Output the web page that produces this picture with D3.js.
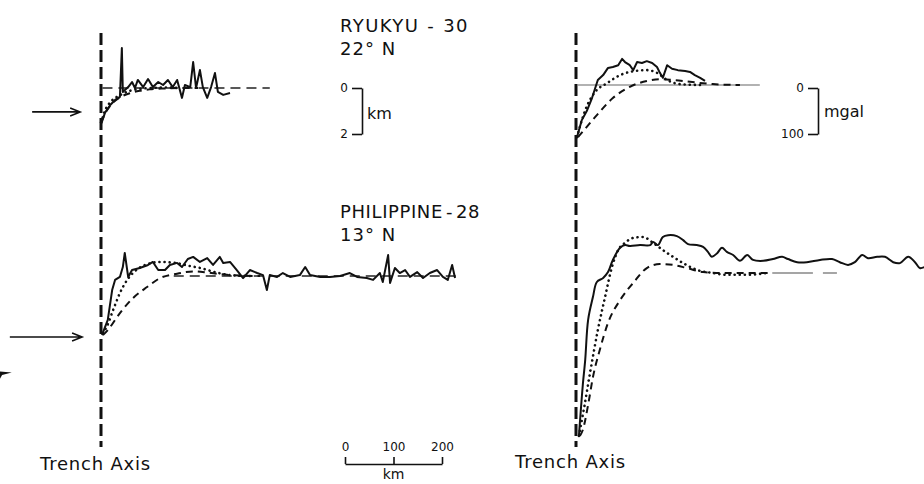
<!DOCTYPE html>
<html>
<head>
<meta charset="utf-8">
<script src="https://cdn.jsdelivr.net/npm/d3@7"></script>
<style>
  body { margin: 0; background: #fff; }
  svg text { font-family: "DejaVu Sans", sans-serif; fill: #111; }
</style>
</head>
<body>
<svg id="canvas" width="924" height="484"></svg>
<script>
// distances are km from the trench axis
// bathymetry: km relative to reference level (up = +), gravity: mgal relative to reference level

// RYUKYU-30 bathymetry (top left)
let ryuObsKm   = [1,8,19,29,39,43,45,56,64,70,76,87,97,107,118,128,138,148,157,167,173,184,190,196,204,210,219,227,235,241,252,266]
let ryuObsElev = [-1.53,-1.09,-0.74,-0.52,-0.39,1.74,-0.17,0.04,0.26,0,0.35,0.04,0.39,0.04,0.26,0.13,0.35,0.04,0.35,-0.43,0.13,0.04,1.13,0,0.78,0.04,-0.43,0.04,0.65,-0.17,-0.30,-0.22]
let ryuDashKm   = [0,10,20,40,60,80,100,130,160,200]
let ryuDashElev = [-1.5,-1.05,-0.75,-0.4,-0.22,-0.12,-0.06,-0.02,0,0]
let ryuDotKm    = [0,10,20,40,60,80,100,130,160]
let ryuDotElev  = [-1.5,-0.9,-0.6,-0.3,-0.12,-0.04,0,0.02,0]

// PHILIPPINE-28 bathymetry (bottom left)
let phiObsKm   = [2,14,23,29,39,45,49,56,64,80,97,107,118,132,142,157,167,179,190,204,219,231,245,252,266,280,293,307,322,334,342,348,363,375,390,410,421,431,452,472,493,513,528,548,561,575,581,592,596,606,616,627,637,652,664,678,693,705,715,724,730]
let phiObsElev = [-2.57,-1.91,-0.61,-0.17,-0.04,0.39,1.0,-0.04,0.26,0.35,0.48,0.61,0.26,0.26,0.48,0.57,0.39,0.74,0.83,0.61,0.78,0.48,0.83,0.57,0.61,0.26,-0.09,0.26,0.13,0.04,-0.61,0.04,-0.04,0.13,-0.04,0.04,0.39,0.04,-0.04,-0.04,0,0.13,-0.04,-0.09,-0.17,0.13,-0.26,0.91,-0.30,0.35,0.13,0.26,-0.04,0.17,-0.09,0.13,0.26,-0.04,-0.17,0.48,-0.09]
let phiDotKm    = [4,12,25,39,54,66,91,122,153,184,204,235,266,307]
let phiDotElev  = [-2.48,-2.2,-1.48,-0.74,-0.17,0.13,0.48,0.61,0.57,0.43,0.35,0.17,0.04,0]
let phiDashKm   = [4,14,39,66,95,122,157,190,219,245,287,328]
let phiDashElev = [-2.57,-2.35,-1.61,-0.96,-0.48,-0.09,0.1,0.2,0.15,0.08,0.02,0]

// RYUKYU-30 gravity (top right)
let ryuGravKm   = [2,12,23,33,45,56,66,76,87,95,101,111,118,126,136,146,157,167,173,179,188,198,210,225,235,245,256,266]
let ryuGravMgal = [-116,-78,-56,-29,11,22,38,40,44,58,51,44,33,51,49,53,49,40,27,16,44,36,33,31,29,22,16,9]
let ryuGDotKm   = [2,19,39,64,91,111,146,167,188,214,256]
let ryuGDotMgal = [-116,-56,-16,4,22,29,33,27,11,2,0]
let ryuGDashKm  = [4,8,43,76,111,146,173,200,235,282,338]
let ryuGDashMgal= [-116,-111,-67,-29,-4,9,13,11,7,2,0]

// PHILIPPINE-28 gravity (bottom right)
let phiGravKm   = [6,10,14,19,25,35,43,56,66,76,91,101,111,132,153,159,169,179,190,208,221,231,249,262,272,280,291,301,311,324,338,353,365,386,406,425,437,456,476,503,528,544,561,575,590,602,621,637,654,668,685,699,709,718]
let phiGravMgal = [-362,-304,-249,-193,-104,-53,-20,-11,2,29,56,62,60,62,62,69,62,80,84,82,73,64,62,58,47,36,44,56,47,40,27,40,29,27,31,36,31,24,24,29,31,24,18,24,40,33,36,36,24,22,36,24,11,13]
let phiGDotKm   = [6,16,29,45,60,74,87,101,118,138,159,179,200,221,249,282,311,353,394]
let phiGDotMgal = [-362,-304,-222,-127,-53,13,51,67,78,80,67,51,36,22,7,0,-4,-4,0]
let phiGDashKm  = [8,14,25,35,49,66,91,118,146,173,200,229,262,311,406]
let phiGDashMgal= [-362,-349,-293,-231,-171,-111,-60,-22,11,20,18,11,2,0,0]

// reference level extents (km)
let levelTL = [3, 348]
let levelBL = [150, 740]
let levelTR = [4, 379]
let levelBR = [406, 538]

let scaleTicks = [0, 100, 200]

let canvas = d3.select('#canvas')

let zip = (a, b) => a.map((v, i) => [v, b[i]])

// horizontal scales, same km/px on both sides
let xLeft  = d3.scaleLinear().domain([0, 200]).range([101, 198])
let xRight = d3.scaleLinear().domain([0, 200]).range([576, 673])

// vertical scales
let yTL = d3.scaleLinear().domain([0, -2]).range([88, 134])
let yBL = d3.scaleLinear().domain([0, -2]).range([276, 322])
let yTR = d3.scaleLinear().domain([0, -100]).range([85, 130])
let yBR = d3.scaleLinear().domain([0, -100]).range([273, 318])

let styles = {
    obs:  { width: 2,   dash: null,      cap: 'butt' },
    dot:  { width: 2.6, dash: '0.1,5',   cap: 'round' },
    dash: { width: 2,   dash: '7,5',     cap: 'butt' }
}

let drawLine = (data, x, y, kind, curve) => {
    let st = styles[kind]
    let gen = d3.line()
        .x(d => x(d[0]))
        .y(d => y(d[1]))
        .curve(curve || d3.curveLinear)
    canvas.append('path')
        .attr('d', gen(data))
        .attr('fill', 'none')
        .attr('stroke', '#111')
        .attr('stroke-width', st.width)
        .attr('stroke-dasharray', st.dash)
        .attr('stroke-linecap', st.cap)
        .attr('stroke-linejoin', 'round')
}

let drawLevel = (ext, x, y, dash, color, w) => {
    canvas.append('line')
        .attr('x1', x(ext[0])).attr('x2', x(ext[1]))
        .attr('y1', y(0)).attr('y2', y(0))
        .attr('stroke', color)
        .attr('stroke-width', w)
        .attr('stroke-dasharray', dash)
}

// reference levels
drawLevel(levelTL, xLeft, yTL, '10,6', '#222', 1.5)
drawLevel(levelBL, xLeft, yBL, '10,6', '#222', 1.5)
drawLevel(levelTR, xRight, yTR, null, '#999', 1.4)
drawLevel(levelBR, xRight, yBR, '40,10', '#888', 1.3)

// trench axes
;[xLeft, xRight].forEach(x => {
    canvas.append('line')
        .attr('x1', x(0)).attr('x2', x(0))
        .attr('y1', 33).attr('y2', 447)
        .attr('stroke', '#111')
        .attr('stroke-width', 3)
        .attr('stroke-dasharray', '12,5')
})

// models and profiles
let smooth = d3.curveMonotoneX
drawLine(zip(ryuDashKm, ryuDashElev), xLeft, yTL, 'dash', smooth)
drawLine(zip(ryuDotKm, ryuDotElev), xLeft, yTL, 'dot', smooth)
drawLine(zip(ryuObsKm, ryuObsElev), xLeft, yTL, 'obs')

drawLine(zip(phiDashKm, phiDashElev), xLeft, yBL, 'dash', smooth)
drawLine(zip(phiDotKm, phiDotElev), xLeft, yBL, 'dot', smooth)
drawLine(zip(phiObsKm, phiObsElev), xLeft, yBL, 'obs')

drawLine(zip(ryuGDashKm, ryuGDashMgal), xRight, yTR, 'dash', smooth)
drawLine(zip(ryuGDotKm, ryuGDotMgal), xRight, yTR, 'dot', smooth)
drawLine(zip(ryuGravKm, ryuGravMgal), xRight, yTR, 'obs')

drawLine(zip(phiGDashKm, phiGDashMgal), xRight, yBR, 'dash', smooth)
drawLine(zip(phiGDotKm, phiGDotMgal), xRight, yBR, 'dot', smooth)
drawLine(zip(phiGravKm, phiGravMgal), xRight, yBR, 'obs', d3.curveCatmullRom)

// arrows pointing at the trench
let arrows = [
    { y: yTL, from: -142, to: -43, elev: -1.04 },
    { y: yBL, from: -188, to: -39, elev: -2.65 }
]
arrows.forEach(a => {
    let yy = a.y(a.elev), x0 = xLeft(a.from), x1 = xLeft(a.to)
    canvas.append('path')
        .attr('d', `M${x0},${yy}H${x1}M${x1 - 10},${yy - 4}L${x1},${yy}L${x1 - 10},${yy + 4}`)
        .attr('fill', 'none').attr('stroke', '#111').attr('stroke-width', 1.6)
})
// clipped arrow head at the left edge
let edgeHead = [[-210, -4.15], [-184, -4.2], [-204, -4.3], [-209, -4.5]]
canvas.append('path')
    .attr('d', d3.line().x(d => xLeft(d[0])).y(d => yBL(d[1]))(edgeHead) + 'Z')
    .attr('fill', '#111')

// vertical scale bars
let kmBar = d3.axisLeft(yTL).tickValues([0, -2]).tickFormat(d => Math.abs(d)).tickSize(10).tickPadding(4).tickSizeOuter(0)
canvas.append('g').attr('transform', 'translate(362,0)').call(kmBar)
canvas.append('text').attr('x', 367).attr('y', 119).attr('font-size', 16).text('km')

let mgalBar = d3.axisLeft(yTL).tickValues([0, -2]).tickFormat(d => d === 0 ? '0' : '100').tickSize(10).tickPadding(4).tickSizeOuter(0)
canvas.append('g').attr('transform', 'translate(818,0)').call(mgalBar)
canvas.append('text').attr('x', 824).attr('y', 117).attr('font-size', 16).text('mgal')

// horizontal km scale bar
let barScale = d3.scaleLinear().domain([0, 200]).range([345, 345 + xLeft(200) - xLeft(0)])
let hBar = d3.axisTop(barScale).tickValues(scaleTicks).tickSize(7).tickPadding(6).tickSizeOuter(0)
canvas.append('g').attr('transform', 'translate(0,464)').call(hBar)
canvas.append('text').attr('x', barScale(100)).attr('y', 479).attr('font-size', 14).attr('text-anchor', 'middle').text('km')

canvas.selectAll('.domain, .tick line').attr('stroke', '#111').attr('stroke-width', 1.6)
canvas.selectAll('.tick text').attr('font-size', 12).attr('font-family', '"DejaVu Sans", sans-serif').attr('fill', '#111')

// titles, hyphen set apart as in the lettering
let titles = [
    { x: 340, y: 32, gap: 8, ls: 1.4, parts: ['RYUKYU', '-', '30'] },
    { x: 340, y: 55, gap: 0, ls: 1.0, parts: ['22° N'] },
    { x: 340, y: 218, gap: 3, ls: 0.6, parts: ['PHILIPPINE', '-', '28'] },
    { x: 340, y: 241, gap: 0, ls: 1.0, parts: ['13° N'] },
    { x: 40, y: 470, gap: 0, ls: 0.8, parts: ['Trench Axis'] },
    { x: 515, y: 468, gap: 0, ls: 0.8, parts: ['Trench Axis'] }
]
let tt = canvas.selectAll('text.title')
    .data(titles)
    .enter()
    .append('text')
    .attr('class', 'title')
    .attr('x', d => d.x)
    .attr('y', d => d.y)
    .attr('font-size', 18)
    .attr('letter-spacing', d => d.ls)
tt.selectAll('tspan')
    .data(d => d.parts.map((p, i) => ({ p: p, dx: i === 0 ? 0 : d.gap })))
    .enter()
    .append('tspan')
    .attr('dx', d => d.dx)
    .text(d => d.p)
</script>
</body>
</html>
